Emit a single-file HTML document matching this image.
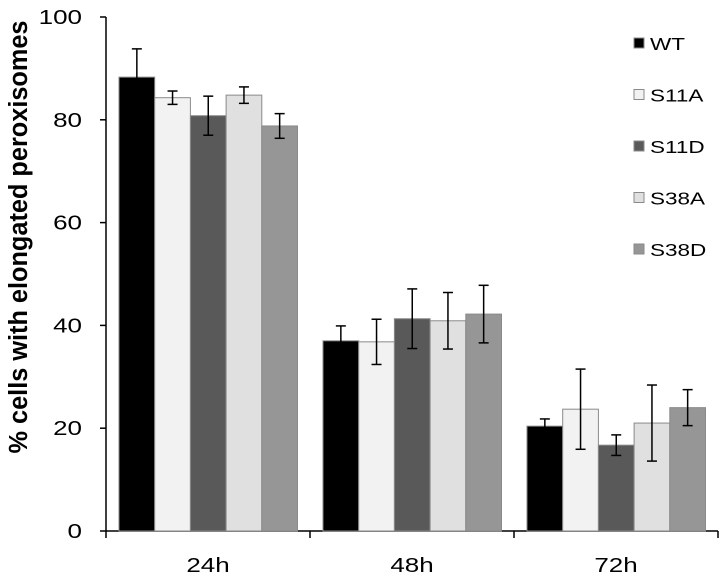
<!DOCTYPE html>
<html><head><meta charset="utf-8"><style>body{margin:0;background:#fff}svg{display:block;font-family:"Liberation Sans",sans-serif}</style></head>
<body>
<svg id="c" width="725" height="580"></svg>
<script>
const categories=["24h","48h","72h"];
const seriesNames=["WT","S11A","S11D","S38A","S38D"];
const wt=[88.3,37,20.4];
const s11a=[84.3,36.8,23.7];
const s11d=[80.8,41.3,16.7];
const s38a=[84.8,40.9,21];
const s38d=[78.8,42.2,24];
const errWT=[5.5,2.9,1.4];
const errS11A=[1.3,4.4,7.8];
const errS11D=[3.8,5.8,2];
const errS38A=[1.6,5.5,7.4];
const errS38D=[2.4,5.6,3.5];
const yTicks=[0,20,40,60,80,100];
const colors=["#000000","#f2f2f2","#595959","#e0e0e0","#969696"];
const values=[wt,s11a,s11d,s38a,s38d];
const errs=[errWT,errS11A,errS11D,errS38A,errS38D];
const svg=document.getElementById('c');const NS="http://www.w3.org/2000/svg";
function mk(t,a,p){const e=document.createElementNS(NS,t);for(const k in a)e.setAttribute(k,a[k]);(p||svg).appendChild(e);return e;}
const x0=106,x1=718,yB=531,yT=17;
const y=v=>yB-(v/100)*(yB-yT);
const gw=(x1-x0)/categories.length,bw=35.7,off=13;
mk('line',{x1:x0,y1:yT,x2:x0,y2:yB,stroke:'#000','stroke-width':1.5});
mk('line',{x1:x0,y1:yB,x2:x1,y2:yB,stroke:'#000','stroke-width':1.5});
yTicks.forEach(t=>{mk('line',{x1:x0-6,y1:y(t),x2:x0,y2:y(t),stroke:'#000','stroke-width':1.5});
const l=mk('text',{x:0,y:0,'text-anchor':'end','font-size':20,transform:`translate(${x0-24},${y(t)+7}) scale(1.3,1)`});l.textContent=t;

});
for(let i=0;i<=categories.length;i++)mk('line',{x1:x0+i*gw,y1:yB,x2:x0+i*gw,y2:yB+7,stroke:'#000','stroke-width':1.5});
categories.forEach((c,i)=>{const l=mk('text',{x:0,y:0,'text-anchor':'middle','font-size':20,transform:`translate(${x0+i*gw+gw/2},572) scale(1.3,1)`});l.textContent=c;


values.forEach((s,j)=>{const bx=x0+i*gw+off+j*bw,v=s[i],e=errs[j][i];
const r=mk('rect',{x:bx,y:y(v),width:bw,height:yB-y(v),fill:colors[j],stroke:'#8a8a8a','stroke-width':1});


const cx=bx+bw/2;
mk('line',{x1:cx,y1:y(v+e),x2:cx,y2:y(v-e),stroke:'#000','stroke-width':1.5});
mk('line',{x1:cx-5,y1:y(v+e),x2:cx+5,y2:y(v+e),stroke:'#000','stroke-width':1.5});
mk('line',{x1:cx-5,y1:y(v-e),x2:cx+5,y2:y(v-e),stroke:'#000','stroke-width':1.5});});});
seriesNames.forEach((n,j)=>{const ly=43+j*51.5;
const r=mk('rect',{x:634,y:ly-5,width:10,height:10,fill:colors[j],stroke:'#8a8a8a'});


const t=mk('text',{x:0,y:0,'font-size':18,transform:`translate(650,${ly+7}) scale(1.25,1)`});t.textContent=n;

});
const yt=mk('text',{x:0,y:0,'font-size':20,'font-weight':'bold','text-anchor':'middle',textLength:433,lengthAdjust:'spacingAndGlyphs',transform:'translate(27,237) scale(1.3,1) rotate(-90)'});
yt.textContent='% cells with elongated peroxisomes';


</script>
</body></html>
